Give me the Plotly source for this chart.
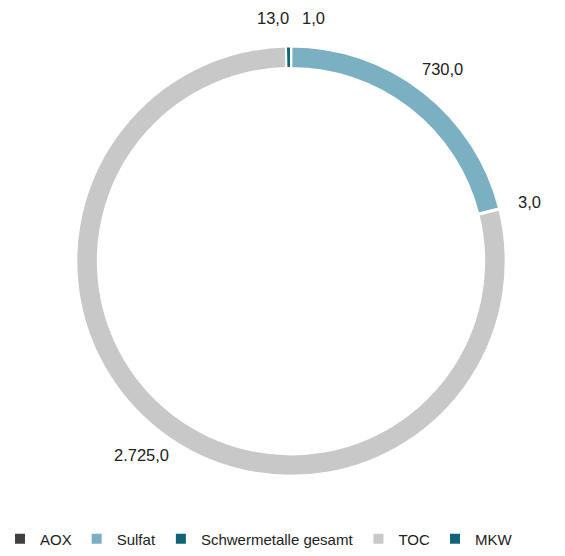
import math
import plotly.graph_objects as go

# Parameter und Frachten
categories = ["AOX", "Sulfat", "Schwermetalle gesamt", "TOC", "MKW"]
values = [1.0, 730.0, 3.0, 2725.0, 13.0]
colors = ["#404040", "#7ab0c1", "#0f6577", "#c8c8c8", "#0f6577"]

W, H = 565, 556
CX, CY, R = 291, 264, 217          # ring centre and outer radius (px)
LABEL_R = 246                       # radius of value labels (px)
FONT = "Liberation Sans, Arial, sans-serif"


def fmt_de(v):
    s = f"{v:,.1f}"
    return s.replace(",", "X").replace(".", ",").replace("X", ".")


fig = go.Figure(
    go.Pie(
        labels=categories,
        values=values,
        marker=dict(colors=colors, line=dict(color="white", width=2)),
        hole=0.9,
        sort=False,
        direction="clockwise",
        rotation=0,
        textinfo="none",
        hoverinfo="label+value",
        domain=dict(x=[(CX - R) / W, (CX + R) / W],
                    y=[(H - CY - R) / H, (H - CY + R) / H]),
    )
)

# value labels placed around the ring at each slice's mid angle
total = sum(values)
acc = 0.0
annotations = []
for v in values:
    mid = (acc + v / 2) / total * 2 * math.pi
    acc += v
    s, c = math.sin(mid), math.cos(mid)
    px = CX + LABEL_R * s
    py = CY - LABEL_R * c
    anchor, shift = "center", 0
    if abs(s) < 0.05:
        anchor, shift = ("left", 9) if s >= 0 else ("right", 3)
    annotations.append(dict(
        x=px / W, y=(H - py) / H, xref="paper", yref="paper",
        text=fmt_de(v), showarrow=False, xanchor=anchor, yanchor="middle",
        xshift=shift, font=dict(size=16.5, color="#222222", family=FONT),
    ))

fig.update_layout(
    width=W, height=H,
    margin=dict(l=0, r=0, t=0, b=0),
    paper_bgcolor="white",
    plot_bgcolor="white",
    annotations=annotations,
    legend=dict(
        orientation="h", x=0, y=(H - 545) / H,
        xanchor="left", yanchor="middle",
        font=dict(size=15, color="#222222", family=FONT),
        traceorder="normal", itemwidth=30,
    ),
)

fig.write_html("out.html")
